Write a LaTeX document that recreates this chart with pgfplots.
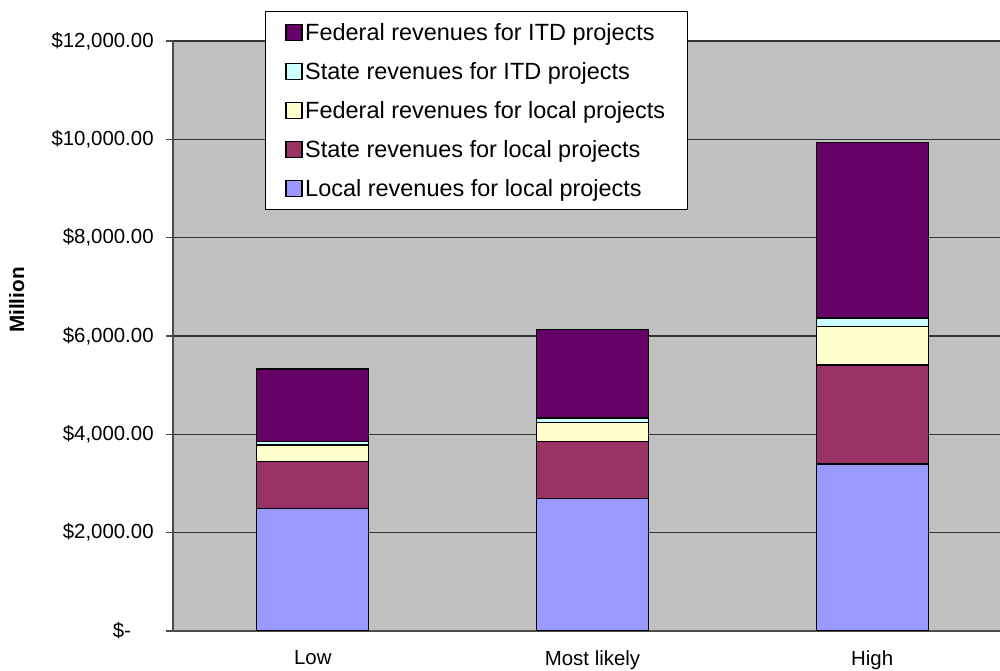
\documentclass[border=0pt]{standalone}
\usepackage{fontspec}
\setmainfont{Liberation Sans}
\usepackage{pgfplots}
\pgfplotsset{compat=1.18}

\definecolor{fedITD}{HTML}{660066}
\definecolor{stateITD}{HTML}{CCFFFF}
\definecolor{fedLoc}{HTML}{FFFFCC}
\definecolor{stateLoc}{HTML}{993366}
\definecolor{locLoc}{HTML}{9999FF}
\definecolor{plotbg}{HTML}{C0C0C0}

\begin{document}
\begin{tikzpicture}
\path[use as bounding box] (-129.75pt,-30pt) rectangle (620.25pt,473.25pt);
\begin{axis}[
  at={(0,0)}, anchor=south west,
  scale only axis,
  width=620.25pt, height=442.5pt,
  ybar stacked, bar width=0.4,
  xmin=-0.5, xmax=2.457,
  ymin=0, ymax=12000,
  axis background/.style={fill=plotbg},
  axis x line*=bottom, axis y line*=left,
  axis line style={black!70, line width=0.9pt},
  ytick={0,2000,4000,6000,8000,10000,12000},
  yticklabels={{\$-\hspace*{17pt}},{\$2,000.00},{\$4,000.00},{\$6,000.00},{\$8,000.00},{\$10,000.00},{\$12,000.00}},
  scaled y ticks=false,
  xtick={0,1,2},
  xticklabels={Low,Most likely,High},
  extra x ticks={-0.5,0.5,1.5},
  extra x tick labels={},
  extra x tick style={major tick length=5pt, tick style={black!70, line width=0.8pt}},
  major tick length=5pt,
  x tick style={draw=none},
  y tick style={black!70, line width=0.8pt},
  tick align=outside,
  ymajorgrids,
  grid style={black!80, line width=0.8pt},
  ticklabel style={font=\fontsize{15.3}{18}\selectfont},
  xticklabel style={yshift=-6pt},
  yticklabel style={xshift=-6pt},
  ylabel={\textbf{Million}},
  ylabel style={font=\fontsize{15.5}{18}\selectfont, at={(axis description cs:-0.189,0.561)}, anchor=center},
  reverse legend,
  legend cell align=left,
  legend style={at={(axis description cs:0.1112,1.0508)}, anchor=north west,
    draw=black, fill=white, line width=0.8pt,
    font=\fontsize{17.6}{21}\selectfont,
    nodes={inner xsep=2pt, inner ysep=2pt, text height=14.2pt, text depth=2.2pt},
    row sep=8.85pt, inner xsep=15pt, inner ysep=5.5pt},
  legend image code/.code={\draw[#1, line width=0.8pt] (0pt,-6pt) rectangle (12pt,6pt);},
  every axis plot/.append style={draw=black, line width=0.9pt},
]
\addplot[fill=locLoc] coordinates {(0,2490) (1,2694) (2,3398)};
\addlegendentry{Local revenues for local projects}
\addplot[fill=stateLoc] coordinates {(0,958) (1,1155) (2,2011)};
\addlegendentry{State revenues for local projects}
\addplot[fill=fedLoc] coordinates {(0,334) (1,387) (2,780)};
\addlegendentry{Federal revenues for local projects}
\addplot[fill=stateITD] coordinates {(0,73) (1,96) (2,178)};
\addlegendentry{State revenues for ITD projects}
\addplot[fill=fedITD] coordinates {(0,1475) (1,1792) (2,3564)};
\addlegendentry{Federal revenues for ITD projects}
\end{axis}
\end{tikzpicture}
\end{document}
